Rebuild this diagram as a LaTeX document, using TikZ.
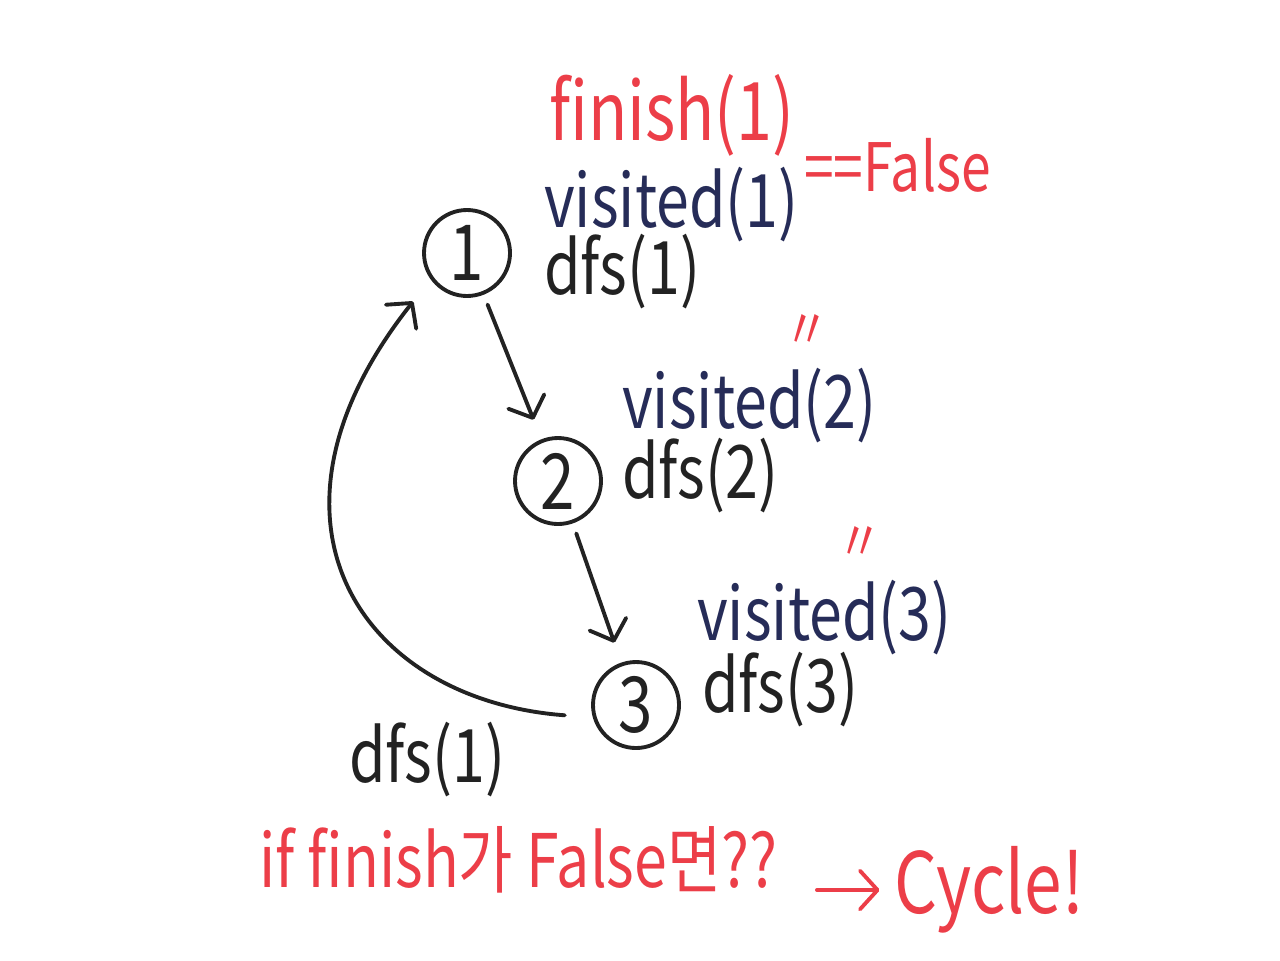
\documentclass[tikz,border=0pt]{standalone}
\usepackage{fontspec}
\setmainfont[FakeStretch=0.8]{Noto Sans CJK KR}
\usetikzlibrary{arrows.meta}

\definecolor{penred}{RGB}{236,62,72}
\definecolor{pennavy}{RGB}{38,44,88}
\definecolor{penblack}{RGB}{34,34,34}

\begin{document}
\begin{tikzpicture}[
  vertex/.style  = {draw=penblack, circle, line width=1.1pt, minimum size=8.6mm,
                    inner sep=0pt, text=penblack, font=\fontsize{22}{26}\selectfont},
  note/.style    = {anchor=west, inner sep=1pt, font=\fontsize{21}{24}\selectfont},
  call/.style    = {note, text=penblack},
  seen/.style    = {note, text=pennavy},
  warn/.style    = {note, text=penred},
  ditto/.style   = {inner sep=0pt, text=penred, font=\fontsize{16}{18}\selectfont},
  arrow/.style   = {line width=1.1pt, draw=penblack, line cap=round,
                    -{Straight Barb[length=5pt,width=11pt,round]}},
]
  \useasboundingbox (0,0) rectangle (12.8,9.6);

  \node[vertex] (v1) at (4.67,7.07) {1};
  \node[vertex] (v2) at (5.58,4.79) {2};
  \node[vertex] (v3) at (6.36,2.55) {3};

  \node[warn, font=\fontsize{23}{26}\selectfont] (fin1) at (5.45,8.45) {finish(1)};
  \node[warn, font=\fontsize{19}{22}\selectfont] (false) at (8.00,7.95) {==False};
  \node[seen] (vis1)  at (5.40,7.55) {visited(1)};
  \node[call] (dfs1)  at (5.40,6.88) {dfs(1)};

  \node[ditto] (dit2) at (8.07,6.28) {〃};
  \node[seen] (vis2)  at (6.18,5.54) {visited(2)};
  \node[call] (dfs2)  at (6.18,4.84) {dfs(2)};

  \node[ditto] (dit3) at (8.60,4.16) {〃};
  \node[seen] (vis3)  at (6.93,3.42) {visited(3)};
  \node[call] (dfs3)  at (6.98,2.70) {dfs(3)};

  \node[call] (back)  at (3.45,2.00) {dfs(1)};

  % the question at the bottom
  \node[warn] (cond) at (2.55,1.00) {if finish가 False면??};
  \node[warn, font=\fontsize{24}{28}\selectfont] (cyc) at (8.90,0.70) {Cycle!};

  \draw[arrow, shorten <=3pt, shorten >=6pt] (v1) -- (v2);
  \draw[arrow, shorten <=3pt, shorten >=6pt] (v2) -- (v3);
  \draw[arrow, shorten <=8pt, shorten >=8pt]
    (v3.196) .. controls (3.6,2.6) and (2.4,4.4) .. (v1.216);
  \draw[arrow, draw=penred, shorten <=10pt, shorten >=3pt] (cond.east |- cyc) -- (cyc.west);
\end{tikzpicture}
\end{document}
